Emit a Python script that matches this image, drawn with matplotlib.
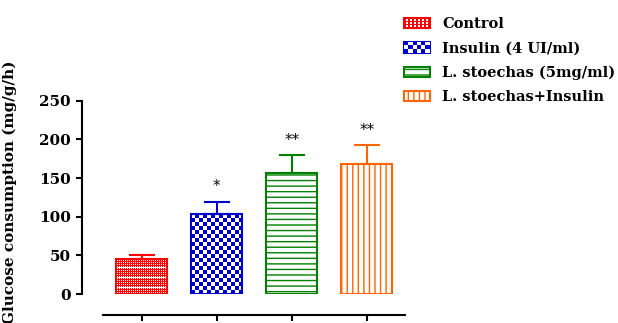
import numpy as np
import matplotlib
matplotlib.use('Agg')
import matplotlib.pyplot as plt
from matplotlib.patches import Rectangle, Patch
from matplotlib.legend_handler import HandlerBase

# ── Data ──────────────────────────────────────────────────────────────────────
groups = ['Control', 'Insulin (4 UI/ml)', 'L. stoechas (5mg/ml)', 'L. stoechas+Insulin']
means = [45, 103, 157, 168]
errors = [5.5, 16.5, 23, 25]
signif = ['', '*', '**', '**']
colors = ['#FF0000', '#0000CC', '#008000', '#FF6600']
y_ticks = [0, 50, 100, 150, 200, 250]

plt.rcParams['font.family'] = ['DejaVu Serif']
plt.rcParams['hatch.linewidth'] = 1.0

DPI = 100
fig = plt.figure(figsize=(6.18, 3.23), dpi=DPI)
ax = fig.add_axes([82 / 618, 29 / 323, 329.7 / 618, 193.3 / 323])

x = np.arange(len(groups))
bar_w = 0.68


def checker(nx, ny, cell):
    yy, xx = np.indices((ny, nx))
    return ((xx // cell + yy // cell) % 2) == 1


def dots(nx, ny):
    yy, xx = np.indices((ny, nx))
    m = (xx % 2 == 1) & (yy % 2 == 1)
    m |= (yy % 10 == 6)
    return m


# bars: checker fills drawn as clipped images, line fills as hatches
bars = ax.bar(x, means, bar_w, facecolor='none', edgecolor=colors, linewidth=1.5, zorder=3)
px_per_x = 329.7 / 4.396
px_per_y = 193.3 / 250
for i, b in enumerate(bars):
    x0, y0, w, h = b.get_x(), b.get_y(), b.get_width(), b.get_height()
    nx, ny = int(round(w * px_per_x)), int(round(h * px_per_y))
    if i == 0:
        mask = dots(nx, ny)
    elif i == 1:
        mask = checker(nx, ny, 4)
    else:
        mask = None
    if mask is not None:
        rgb = np.array(matplotlib.colors.to_rgb(colors[i]))
        img = np.where(mask[..., None], np.ones(3), rgb)
        im = ax.imshow(img, extent=(x0, x0 + w, y0, y0 + h), aspect='auto',
                       interpolation='nearest', origin='lower', zorder=2)
        im.set_clip_path(b)
    elif i == 2:
        b.set_hatch('---')
    else:
        b.set_hatch('|||')

for i in range(len(groups)):
    ax.errorbar(x[i], means[i], yerr=[[0], [errors[i]]], fmt='none', ecolor=colors[i],
                elinewidth=1.5, capsize=9.5, capthick=1.5, zorder=4)
    if signif[i]:
        ax.text(x[i], means[i] + errors[i] + 19, signif[i], ha='center', va='center',
                fontsize=11, color='black', family='DejaVu Sans', clip_on=False)

ax.set_xlim(-0.796, 3.6)
ax.set_ylim(0, 250)
ax.set_yticks(y_ticks)
ax.set_xticks(x)
ax.set_xticklabels([])
for s in ['top', 'right']:
    ax.spines[s].set_visible(False)
ax.spines['left'].set_linewidth(1.5)
ax.spines['bottom'].set_linewidth(1.5)
ax.spines['bottom'].set_position(('outward', 15))
ax.spines['bottom'].set_bounds(-0.517, 3.51)
ax.tick_params(axis='both', direction='out', length=4.5, width=1.5)
for lab in ax.get_yticklabels():
    lab.set_fontweight('bold')
    lab.set_fontsize(11)
ax.set_ylabel('Glucose consumption (mg/g/h)', fontsize=11, fontweight='bold')
ax.yaxis.set_label_coords(-0.197, 0.528)


class PatternHandler(HandlerBase):
    def __init__(self, color, mask):
        super().__init__()
        self.color = color
        self.mask = mask

    def create_artists(self, legend, orig_handle, xdescent, ydescent, width, height, fontsize, trans):
        x0, y0 = -xdescent, -ydescent
        arts = [Rectangle((x0, y0), width, height, facecolor=self.color, edgecolor=self.color,
                          linewidth=1.5, transform=trans)]
        ny, nx = self.mask.shape
        cw, ch = width / nx, height / ny
        for j in range(ny):
            for k in range(nx):
                if self.mask[j, k]:
                    arts.append(Rectangle((x0 + k * cw, y0 + j * ch), cw, ch, facecolor='white',
                                          linewidth=0, transform=trans))
        return arts


yy, xx = np.indices((7, 13))
red_mask = (yy % 2 == 1) & (xx % 2 == 1)
blue_mask = checker(6, 3, 1)

handles = [Patch(label=groups[0]), Patch(label=groups[1]),
           Patch(facecolor='white', edgecolor=colors[2], hatch='---', linewidth=1.5, label=groups[2]),
           Patch(facecolor='white', edgecolor=colors[3], hatch='|||', linewidth=1.5, label=groups[3])]
leg = fig.legend(handles=handles, loc='upper left', bbox_to_anchor=(391 / 618, 1 - 4 / 323),
                 frameon=False, prop={'weight': 'bold', 'size': 10.5},
                 handlelength=1.75, handleheight=0.75, handletextpad=0.85, labelspacing=0.7,
                 handler_map={handles[0]: PatternHandler(colors[0], red_mask),
                              handles[1]: PatternHandler(colors[1], blue_mask)})

fig.savefig('out.png', dpi=DPI)
